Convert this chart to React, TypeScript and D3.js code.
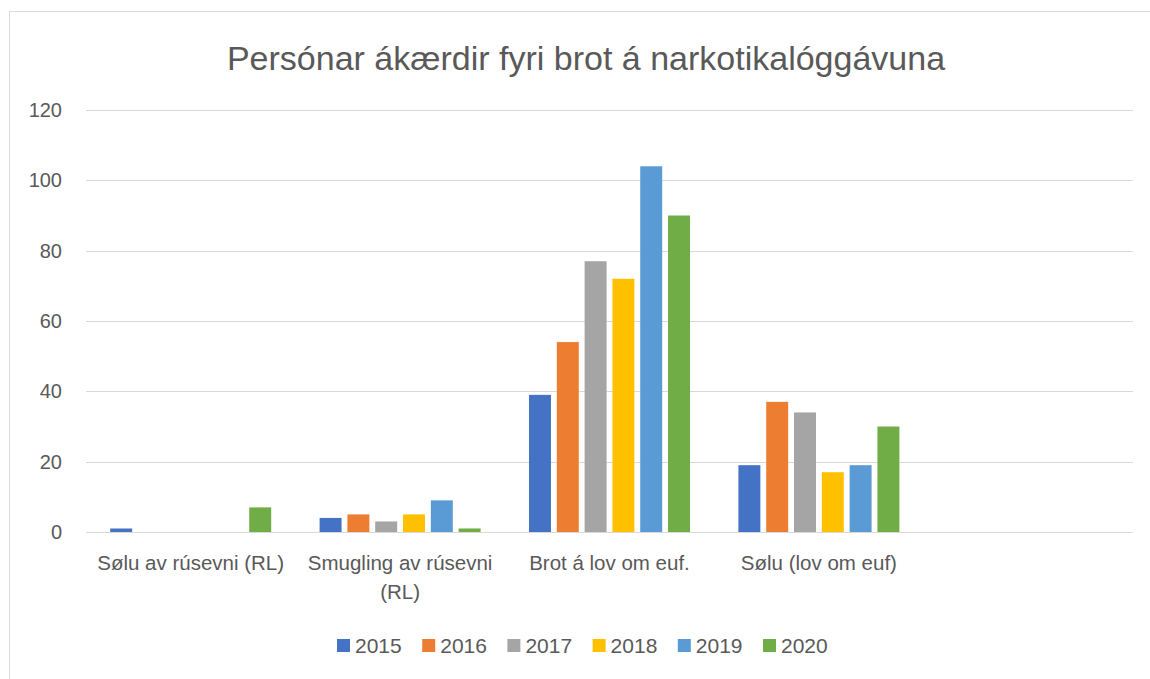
import React, { useRef, useEffect } from "react";
import * as d3 from "d3";

// data
const categories = ["Sølu av rúsevni (RL)", "Smugling av rúsevni (RL)", "Brot á lov om euf.", "Sølu (lov om euf)", ""];
const years = ["2015", "2016", "2017", "2018", "2019", "2020"];
const v2015 = [1, 4, 39, 19];
const v2016 = [0, 5, 54, 37];
const v2017 = [0, 3, 77, 34];
const v2018 = [0, 5, 72, 17];
const v2019 = [0, 9, 104, 19];
const v2020 = [7, 1, 90, 30];
const yTicks = [0, 20, 40, 60, 80, 100, 120];
const colors = ["#4472C4", "#ED7D31", "#A5A5A5", "#FFC000", "#5B9BD5", "#70AD47"];
const title = "Persónar ákærdir fyri brot á narkotikalóggávuna";

const series = [v2015, v2016, v2017, v2018, v2019, v2020];

const W = 1150, H = 679;
const font = "'Liberation Sans', Arial, sans-serif";
const textColor = "#595959";

function App() {
    const ref = useRef<SVGSVGElement>(null);

    useEffect(() => {
        const svg = d3.select(ref.current);
        svg.selectAll("*").remove();

        // chart border
        svg.append("rect")
            .attr("x", 9.5).attr("y", 11.5)
            .attr("width", W + 20).attr("height", H + 20)
            .attr("fill", "white").attr("stroke", "#D9D9D9");

        svg.append("text")
            .attr("x", 586).attr("y", 70)
            .attr("text-anchor", "middle")
            .attr("font-family", font).attr("font-size", 34)
            .attr("fill", textColor)
            .text(title);

        const x0 = d3.scaleBand().domain(categories.map((c, i) => i + "")).range([86, 1133]);
        const x1 = d3.scaleBand().domain(years)
            .range([24.2, x0.bandwidth() - 24.2])
            .paddingInner(0.21).paddingOuter(0);
        const y = d3.scaleLinear().domain([0, 120]).range([532, 110]);

        // gridlines
        svg.append("g").selectAll("line").data(yTicks).join("line")
            .attr("x1", 86).attr("x2", 1133)
            .attr("y1", d => Math.round(y(d)) + 0.5).attr("y2", d => Math.round(y(d)) + 0.5)
            .attr("stroke", "#D9D9D9").attr("stroke-width", 1);

        svg.append("g").selectAll("text").data(yTicks).join("text")
            .attr("x", 62).attr("y", d => y(d))
            .attr("dy", "0.35em")
            .attr("text-anchor", "end")
            .attr("font-family", font).attr("font-size", 20)
            .attr("fill", textColor)
            .text(d => d);

        // bars
        const groups = svg.append("g").selectAll("g").data(series).join("g")
            .attr("fill", (d, i) => colors[i]);
        groups.each(function (vals, si) {
            d3.select(this).selectAll("rect").data(vals).join("rect")
                .attr("x", (d, ci) => x0(ci + "")! + x1(years[si])!)
                .attr("width", x1.bandwidth())
                .attr("y", d => y(d))
                .attr("height", d => y(0) - y(d));
        });

        // category labels, wrapped to the band width
        const labels = svg.append("g").selectAll("text").data(categories).join("text")
            .attr("x", (d, i) => x0(i + "")! + x0.bandwidth() / 2)
            .attr("y", 570)
            .attr("text-anchor", "middle")
            .attr("font-family", font).attr("font-size", 20.5)
            .attr("fill", textColor);
        labels.each(function (d) {
            const t = d3.select(this);
            const cx = t.attr("x");
            const words = d.split(" ");
            let line: string[] = [];
            let tspan = t.append("tspan").attr("x", cx).attr("dy", 0);
            for (const w of words) {
                line.push(w);
                tspan.text(line.join(" "));
                if ((tspan.node() as SVGTextContentElement).getComputedTextLength() > x0.bandwidth() - 4 && line.length > 1) {
                    line.pop();
                    tspan.text(line.join(" "));
                    line = [w];
                    tspan = t.append("tspan").attr("x", cx).attr("dy", 29).text(w);
                }
            }
        });

        // legend
        const legend = svg.append("g").selectAll("g").data(years).join("g")
            .attr("transform", (d, i) => "translate(" + (337 + i * 85.2) + ",639)");
        legend.append("rect").attr("width", 13).attr("height", 13)
            .attr("fill", (d, i) => colors[i]);
        legend.append("text")
            .attr("x", 18).attr("y", 14)
            .attr("font-family", font).attr("font-size", 21)
            .attr("fill", textColor)
            .text(d => d);
    }, []);

    return (
        <svg ref={ref} width={W} height={H}
            style={{ position: "absolute", left: 0, top: 0, background: "white" }} />
    );
}

export default App;
